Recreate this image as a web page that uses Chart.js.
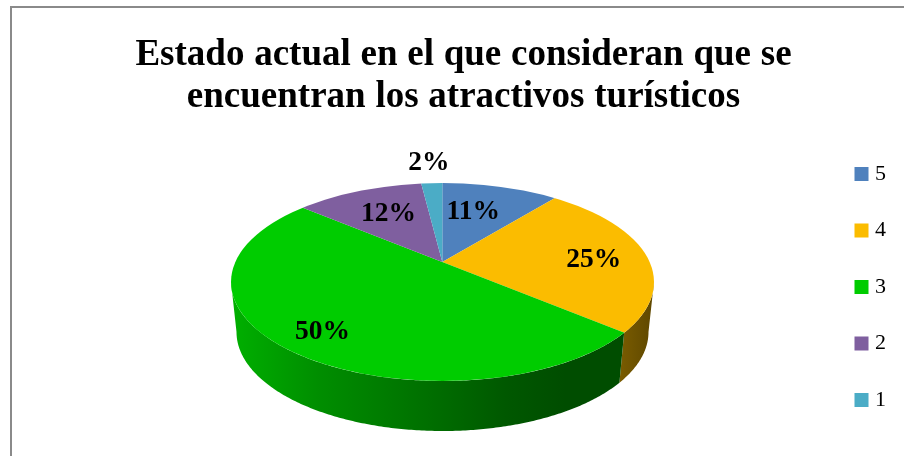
<!DOCTYPE html>
<html>
<head>
<meta charset="utf-8">
<script src="https://cdn.jsdelivr.net/npm/chart.js@4"></script>
<style>
html,body{margin:0;padding:0;width:904px;height:456px;overflow:hidden;background:#fff}
#wrap{position:relative;width:904px;height:456px;overflow:hidden}
canvas{position:absolute;left:0;top:0}
#frame{position:absolute;left:10px;top:6px;width:900px;height:460px;border-left:2px solid #8a8a8a;border-top:2px solid #8a8a8a}
</style>
</head>
<body>
<div id="wrap"><canvas id="c" width="896" height="456" style="width:896px;height:456px"></canvas><div id="frame"></div></div>
<script>
const categories = ['5', '4', '3', '2', '1'];
const values = [11, 25, 50, 12, 2];
const sliceColors = ['#4F81BD', '#FBBC00', '#00CC00', '#7F5F9F', '#4BACC6'];
const titleLines = ['Estado actual en el que consideran que se', 'encuentran los atractivos turísticos'];
const labelRadius = [115, 151, 188, 114, 213];
const labelNudgeX = [-8, 1, 0, 1, 0];
const labelNudgeY = [1, 5, 2, -1, 1];

// view of the tilted disc (perspective approximated by an off-centre apex clipped to an ellipse)
const apex = {x: 442.3, y: 262, squash: 0.47};
const topRim = {x: 442.5, y: 282, rx: 211.5, ry: 99};
const lowRim = {x: 442.5, y: 332, rx: 206, ry: 99};
const wallStops = {
  1: [[0, '#7A5C00'], [1, '#5E4700']],
  2: [[0, '#00B000'], [0.22, '#008E00'], [0.45, '#007500'], [0.7, '#005800'], [0.85, '#004D00'], [1, '#004D00']]
};

function rimParam(a) { // a: canvas angle of the ray in the flat pie
  const dx = Math.cos(a), dy = Math.sin(a) * apex.squash;
  const ox = (apex.x - topRim.x) / topRim.rx, oy = (apex.y - topRim.y) / topRim.ry;
  const ux = dx / topRim.rx, uy = dy / topRim.ry;
  const A = ux * ux + uy * uy, B = 2 * (ox * ux + oy * uy), C = ox * ox + oy * oy - 1;
  const t = (-B + Math.sqrt(B * B - 4 * A * C)) / (2 * A);
  return Math.atan2(oy + uy * t, ox + ux * t);
}

const disc3d = {
  id: 'disc3d',
  beforeDraw(chart) { chart.ctx.wordSpacing = '0.5px'; },
  beforeDatasetsDraw(chart) {
    const ctx = chart.ctx;
    chart.getDatasetMeta(0).data.forEach((el, i) => {
      const stops = wallStops[i];
      if (!stops) return;
      const up = [], lo = [];
      for (let k = 0; k <= 300; k++) {
        const p = rimParam(el.startAngle + (el.endAngle - el.startAngle) * k / 300);
        if (Math.sin(p) < 0) continue;
        up.push([topRim.x + topRim.rx * Math.cos(p), topRim.y + topRim.ry * Math.sin(p)]);
        lo.push([lowRim.x + lowRim.rx * Math.cos(p), lowRim.y + lowRim.ry * Math.sin(p)]);
      }
      const xs = up.map(q => q[0]).concat(lo.map(q => q[0]));
      const g = ctx.createLinearGradient(Math.min(...xs), 0, Math.max(...xs), 0);
      stops.forEach(s => g.addColorStop(s[0], s[1]));
      ctx.save();
      ctx.beginPath();
      up.forEach((q, n) => n ? ctx.lineTo(q[0], q[1]) : ctx.moveTo(q[0], q[1]));
      lo.reverse().forEach(q => ctx.lineTo(q[0], q[1]));
      ctx.closePath();
      ctx.fillStyle = g;
      ctx.fill();
      ctx.restore();
    });
  },
  beforeDatasetDraw(chart) {
    const ctx = chart.ctx, el = chart.getDatasetMeta(0).data[0];
    ctx.save();
    ctx.beginPath();
    ctx.ellipse(topRim.x, topRim.y, topRim.rx, topRim.ry, 0, 0, Math.PI * 2);
    ctx.clip();
    ctx.translate(apex.x, apex.y);
    ctx.scale(1, apex.squash);
    ctx.translate(-el.x, -el.y);
  },
  afterDatasetDraw(chart) { chart.ctx.restore(); },
  afterDatasetsDraw(chart) {
    const ctx = chart.ctx;
    ctx.save();
    ctx.font = 'bold 27.5px "Liberation Serif"';
    ctx.fillStyle = '#000';
    ctx.textAlign = 'center';
    ctx.textBaseline = 'middle';
    chart.getDatasetMeta(0).data.forEach((el, i) => {
      const a = (el.startAngle + el.endAngle) / 2;
      ctx.fillText(values[i] + '%',
        apex.x + labelRadius[i] * Math.cos(a) + labelNudgeX[i],
        apex.y + labelRadius[i] * Math.sin(a) * apex.squash + labelNudgeY[i]);
    });
    ctx.restore();
  }
};

new Chart(document.getElementById('c'), {
  type: 'pie',
  data: {
    labels: categories,
    datasets: [{
      data: values,
      backgroundColor: sliceColors,
      borderWidth: 0,
      radius: 340
    }]
  },
  options: {
    responsive: false,
    animation: false,
    layout: {padding: {left: 31, bottom: 1}},
    plugins: {
      title: {
        display: true,
        weight: 500,
        text: titleLines,
        color: '#000',
        font: {family: '"Liberation Serif"', size: 37, weight: 'bold', lineHeight: 1.15},
        padding: {top: 34, bottom: 0}
      },
      tooltip: {enabled: false},
      legend: {
        position: 'right',
        fullSize: false,
        labels: {
          color: '#000',
          font: {family: '"Liberation Serif"', size: 22},
          boxWidth: 5,
          boxHeight: 5,
          padding: 34.5,
          generateLabels: () => categories.map((t, i) => ({
            text: t, fillStyle: sliceColors[i], strokeStyle: sliceColors[i], lineWidth: 9, hidden: false, index: i
          }))
        }
      }
    }
  },
  plugins: [disc3d]
});
</script>
</body>
</html>
